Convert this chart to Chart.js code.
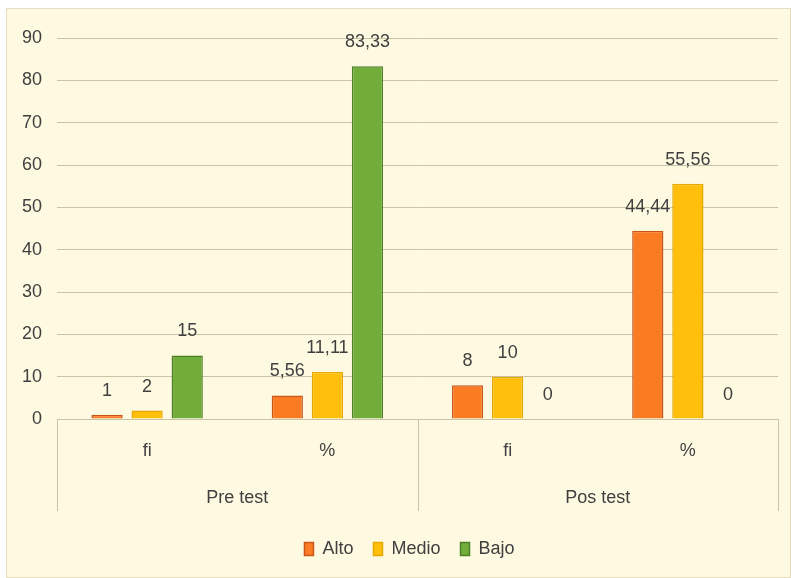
<!DOCTYPE html>
<html>
<head>
<meta charset="utf-8">
<script src="https://cdn.jsdelivr.net/npm/chart.js@4"></script>
<style>
  html, body { margin: 0; padding: 0; background: #ffffff; }
  #box {
    position: absolute; left: 6px; top: 8px; width: 785px; height: 570px;
    box-sizing: border-box; border: 1px solid #e6dcc0; background: #fefae2;
  }
</style>
</head>
<body>
<div id="box"><canvas id="chart"></canvas></div>
<script>
const categories = ["fi", "%", "fi", "%"];
const groups = ["Pre test", "Pos test"];
const alto = [1, 5.56, 8, 44.44];
const medio = [2, 11.11, 10, 55.56];
const bajo = [15, 83.33, 0, 0];
const yTicks = [0, 10, 20, 30, 40, 50, 60, 70, 80, 90];

const FONT = "'Liberation Sans', Arial, sans-serif";
const TEXT = "#404040";
const GRID = "#cbc3a6";

// value labels above the bars, with comma decimals
const valueLabels = {
  id: "valueLabels",
  afterDatasetsDraw(chart) {
    const ctx = chart.ctx;
    ctx.save();
    ctx.font = "18px " + FONT;
    ctx.fillStyle = TEXT;
    ctx.textAlign = "center";
    ctx.textBaseline = "middle";
    chart.data.datasets.forEach((ds, i) => {
      chart.getDatasetMeta(i).data.forEach((bar, j) => {
        const text = String(ds.data[j]).replace(".", ",");
        ctx.fillText(text, bar.x, bar.y - 24);
      });
    });
    ctx.restore();
  },
};

// vertical separators of the two-level category axis
const groupLines = {
  id: "groupLines",
  afterLayout(chart) {
    // centre the legend under the plot like the original
    chart.legend.left += 17;
    chart.legend.right += 17;
  },
  afterDraw(chart) {
    const x = chart.scales.x;
    const x2 = chart.scales.x2;
    const mid = (x.getPixelForValue(1) + x.getPixelForValue(2)) / 2;
    const ctx = chart.ctx;
    ctx.save();
    ctx.strokeStyle = GRID;
    ctx.lineWidth = 1;
    [x.left, mid, x.right].forEach((px) => {
      ctx.beginPath();
      ctx.moveTo(Math.round(px) + 0.5, x.top);
      ctx.lineTo(Math.round(px) + 0.5, x2.top + 40);
      ctx.stroke();
    });
    ctx.restore();
  },
};

new Chart(document.getElementById("chart"), {
  type: "bar",
  data: {
    labels: categories,
    datasets: [
      { label: "Alto", data: alto, backgroundColor: "#fb7b22", borderColor: "#c8571a", borderWidth: 1.5 },
      { label: "Medio", data: medio, backgroundColor: "#ffbf0a", borderColor: "#e8a800", borderWidth: 1.5 },
      { label: "Bajo", data: bajo, backgroundColor: "#72ad3a", borderColor: "#4f7f27", borderWidth: 1.5 },
    ],
  },
  options: {
    responsive: true,
    maintainAspectRatio: false,
    animation: false,
    categoryPercentage: 0.667,
    barPercentage: 0.78,
    layout: { padding: { left: 0, right: 12, top: 29, bottom: 9 } },
    plugins: {
      tooltip: { enabled: false },
      legend: {
        position: "bottom",
        labels: {
          color: TEXT,
          font: { family: FONT, size: 18 },
          boxWidth: 9,
          boxHeight: 13,
          padding: 20,
        },
      },
    },
    scales: {
      y: {
        min: 0,
        max: 90,
        afterBuildTicks: (scale) => { scale.ticks = yTicks.map((v) => ({ value: v })); },
        afterFit: (scale) => { scale.width = 50; },
        border: { display: false },
        grid: { color: GRID, drawTicks: false },
        ticks: { color: TEXT, font: { family: FONT, size: 18 }, padding: 15 },
      },
      x: {
        weight: 0,
        afterFit: (scale) => { scale.height = 52; },
        border: { display: true, color: GRID },
        grid: { display: false },
        ticks: { color: TEXT, font: { family: FONT, size: 18 }, padding: 13 },
      },
      x2: {
        type: "category",
        labels: groups,
        position: "bottom",
        weight: 1,
        offset: true,
        afterFit: (scale) => { scale.height = 49; },
        border: { display: false },
        grid: { display: false },
        ticks: { color: TEXT, font: { family: FONT, size: 18 }, padding: 8 },
      },
    },
  },
  plugins: [valueLabels, groupLines],
});
</script>
</body>
</html>
